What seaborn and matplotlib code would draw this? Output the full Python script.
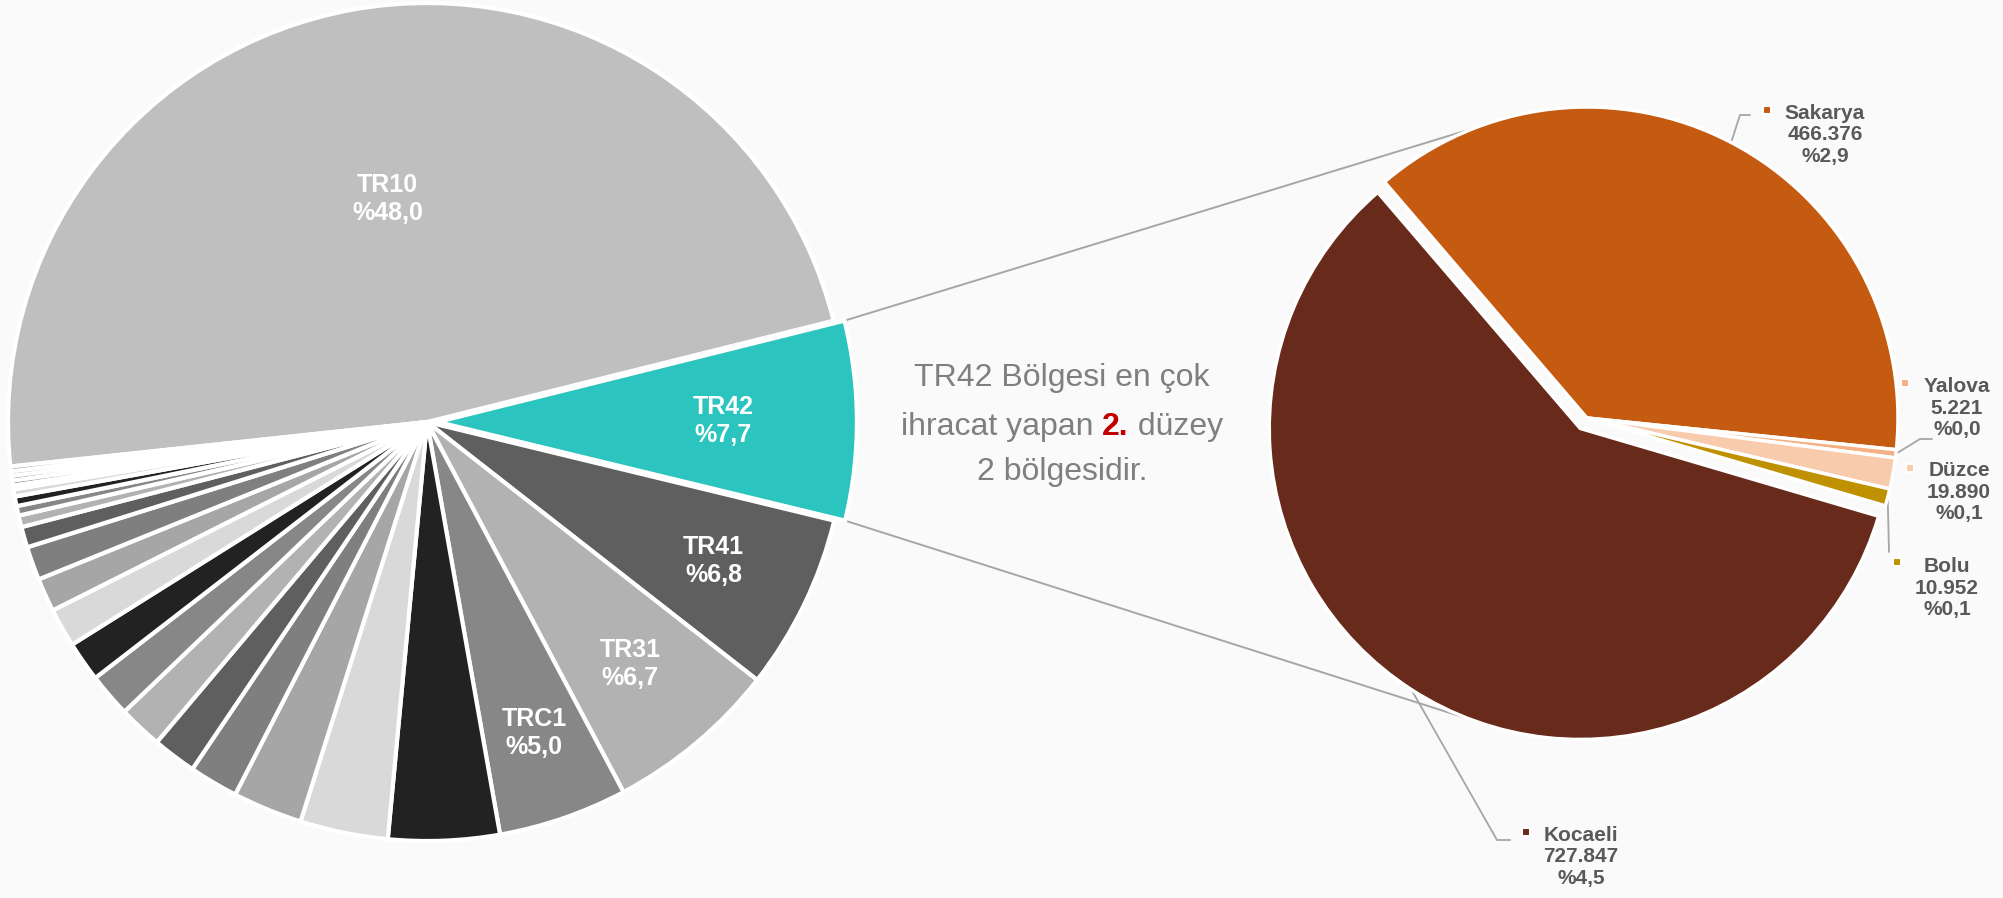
import numpy as np
import matplotlib
matplotlib.use('Agg')
import matplotlib.pyplot as plt
import seaborn as sns

# sol pasta: düzey 2 bölgelerinin ihracattaki payı (%)
bolgeler = ['TR10', 'TR42', 'TR41', 'TR31', 'TRC1',
            'B06', 'B07', 'B08', 'B09', 'B10', 'B11', 'B12', 'B13', 'B14', 'B15',
            'B16', 'B17', 'B18', 'B19', 'B20', 'B21', 'B22', 'B23', 'B24', 'B25', 'B26']
paylar = [48.0, 7.7, 6.8, 6.7, 5.0,
          4.3, 3.4, 2.7, 1.9, 1.7, 1.7, 1.7, 1.55, 1.5, 1.3,
          1.3, 0.8, 0.45, 0.37, 0.37, 0.28, 0.15, 0.19, 0.18, 0.18, 0.18]
etiketli = ['TR10', 'TR42', 'TR41', 'TR31', 'TRC1']

# sağ pasta: TR42 illeri
iller = ['Kocaeli', 'Sakarya', 'Yalova', 'Düzce', 'Bolu']
il_ihracat = [727847, 466376, 5221, 19890, 10952]
il_ulke_pay = [4.5, 2.9, 0.0, 0.1, 0.1]

BG = '#fafafa'
gri_dongu = ['#5f5f5f', '#b2b2b2', '#878787', '#222222', '#d9d9d9', '#a6a6a6', '#7f7f7f']
sol_renk = ['#bfbfbf', '#2bc4bf'] + [gri_dongu[i % 7] for i in range(len(paylar) - 2)]
sag_renk = ['#682a1a', '#c55a11', '#f4b183', '#f8cbad', '#bf9000']

sns.set_theme(style='white')
plt.rcParams['font.family'] = ['Liberation Sans', 'DejaVu Sans']

W, H = 2003, 898
fig = plt.figure(figsize=(W / 100, H / 100), dpi=100, facecolor=BG)
ax = fig.add_axes([0, 0, 1, 1])
ax.set_facecolor(BG)

# sol pasta (explode veri biriminde, piksel)
sol_r = 419
sol_patlama = [0.026 * sol_r if b == 'TR42' else 0 for b in bolgeler]
sol_w, _ = ax.pie(paylar, colors=sol_renk, startangle=186.1, counterclock=False,
                  explode=sol_patlama, center=(427, 476), radius=sol_r, frame=True,
                  wedgeprops=dict(edgecolor='white', linewidth=3))

etiket_r = {'TR10': 0.54, 'TR42': 0.68, 'TR41': 0.76, 'TR31': 0.755, 'TRC1': 0.785}
for w, b, p in zip(sol_w, bolgeler, paylar):
    if b not in etiketli:
        continue
    th = np.deg2rad((w.theta1 + w.theta2) / 2)
    rr = w.r * etiket_r[b]
    ax.text(w.center[0] + rr * np.cos(th), w.center[1] + rr * np.sin(th),
            f"{b}\n%{p:.1f}".replace('.', ','), ha='center', va='center',
            color='white', fontsize=18, fontweight='bold', linespacing=1.2)

# sağ pasta
sag_r = 311
sag_patlama = [0.04 * sag_r, 0, 0, 0, 0]
sag_w, _ = ax.pie(il_ihracat, colors=sag_renk, startangle=-16.4, counterclock=False,
                  explode=sag_patlama, center=(1587, 480), radius=sag_r, frame=True,
                  wedgeprops=dict(edgecolor='white', linewidth=2.5))

# bağlantı çizgileri
tr42 = sol_w[1]
def kenar(w, aci):
    a = np.deg2rad(aci)
    return w.center[0] + w.r * np.cos(a), w.center[1] + w.r * np.sin(a)

ust0 = kenar(tr42, tr42.theta2)
alt0 = kenar(tr42, tr42.theta1)
ust1 = kenar(sag_w[1], 111)
alt1 = kenar(sag_w[0], -110.5)
for a, b in [(ust0, ust1), (alt0, alt1)]:
    ax.plot([a[0], b[0]], [a[1], b[1]], color='#a6a6a6', lw=1.4, zorder=0)

# sağ etiketler
etiket_xy = [(1581, 41), (1825, 763), (1957, 490), (1959, 406), (1947, 310)]
isaret_xy = [(1526, 66), (1767, 788), (1905, 515), (1910, 430), (1897, 336)]
kilavuz = [[(1497, 58), (1510, 58)], [(1740, 783), (1750, 783)],
           [(1920, 459), (1932, 459)], None, [(1889, 346)]]
for w, il, v, p, c, txy, mxy, kl in zip(sag_w, iller, il_ihracat, il_ulke_pay,
                                        sag_renk, etiket_xy, isaret_xy, kilavuz):
    ad = f"{il}\n{v:,}".replace(',', '.') + f"\n%{p:.1f}".replace('.', ',')
    ax.text(txy[0], txy[1], ad, ha='center', va='center', color='#595959',
            fontsize=15, fontweight='bold', linespacing=1.15)
    ax.plot(mxy[0], mxy[1], marker='s', ms=6, color=c, mec='white', mew=1.5)
    if kl is not None:
        x0, y0 = kenar(w, (w.theta1 + w.theta2) / 2)
        xs = [x0] + [k[0] for k in kl]
        ys = [y0] + [k[1] for k in kl]
        ax.plot(xs, ys, color='#a6a6a6', lw=1.3, zorder=0)

ax.set_xlim(0, W)
ax.set_ylim(0, H)
ax.set_aspect('equal')
ax.axis('off')

# orta metin
gri = '#7f7f7f'
fs = 23
ax.text(1062, 520, 'TR42 Bölgesi en çok', ha='center', va='center', color=gri, fontsize=fs)
ax.text(1062, 426, '2 bölgesidir.', ha='center', va='center', color=gri, fontsize=fs)
parcalar = [('ihracat yapan ', gri, 'normal'), ('2.', '#c00000', 'bold'), (' düzey', gri, 'normal')]
fig.canvas.draw()
rend = fig.canvas.get_renderer()
objs = []
for s, c, fw in parcalar:
    t = ax.text(0, 471, s, ha='left', va='center', color=c, fontsize=fs, fontweight=fw)
    objs.append(t)
inv = ax.transData.inverted()
gen = []
for t in objs:
    bb = t.get_window_extent(renderer=rend)
    p0 = inv.transform((bb.x0, bb.y0))
    p1 = inv.transform((bb.x1, bb.y0))
    gen.append(p1[0] - p0[0])
x = 1062 - sum(gen) / 2
for t, g in zip(objs, gen):
    t.set_x(x)
    x += g

fig.savefig('out.png', dpi=100, facecolor=BG)
